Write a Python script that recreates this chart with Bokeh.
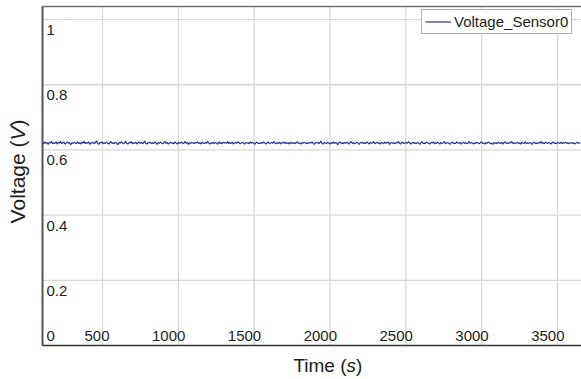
import math
from bokeh.plotting import figure
from bokeh.models import Range1d, ColumnDataSource
from bokeh.core.properties import value
from bokeh.embed import file_html
from bokeh.resources import INLINE

# Sensor 0 voltage log (V), one sample every 7.4 s starting at t = 105 s
time_start = 105
sample_step = 7.4
voltage = [
    0.622, 0.619, 0.625, 0.620, 0.623, 0.617, 0.624, 0.621, 0.626, 0.619, 0.622, 0.620, 0.625, 0.618, 0.623,
    0.621, 0.627, 0.619, 0.622, 0.624, 0.618, 0.621, 0.625, 0.620, 0.623, 0.616, 0.622, 0.620, 0.624, 0.621,
    0.619, 0.626, 0.620, 0.622, 0.618, 0.624, 0.621, 0.627, 0.619, 0.623, 0.620, 0.625, 0.617, 0.622, 0.621,
    0.624, 0.619, 0.622, 0.628, 0.620, 0.617, 0.623, 0.621, 0.625, 0.619, 0.622, 0.620, 0.624, 0.621, 0.618,
    0.623, 0.626, 0.620, 0.622, 0.619, 0.624, 0.621, 0.616, 0.623, 0.620, 0.625, 0.622, 0.619, 0.621, 0.627,
    0.620, 0.618, 0.623, 0.621, 0.626, 0.619, 0.622, 0.620, 0.624, 0.618, 0.621, 0.625, 0.620, 0.623, 0.619,
    0.622, 0.627, 0.620, 0.618, 0.623, 0.621, 0.624, 0.619, 0.622, 0.620, 0.625, 0.621, 0.617, 0.623, 0.620,
    0.624, 0.621, 0.619, 0.622, 0.626, 0.620, 0.623, 0.618, 0.621, 0.624, 0.620, 0.622, 0.619, 0.625, 0.621,
    0.618, 0.623, 0.620, 0.622, 0.624, 0.619, 0.621, 0.626, 0.620, 0.623, 0.617, 0.622, 0.620, 0.624, 0.621,
    0.619, 0.623, 0.621, 0.625, 0.620, 0.622, 0.618, 0.624, 0.621, 0.619, 0.623, 0.620, 0.626, 0.621, 0.618,
    0.622, 0.620, 0.624, 0.619, 0.623, 0.621, 0.617, 0.625, 0.620, 0.622, 0.619, 0.624, 0.621, 0.623, 0.620,
    0.626, 0.619, 0.622, 0.620, 0.624, 0.618, 0.621, 0.623, 0.620, 0.625, 0.622, 0.619, 0.621, 0.624, 0.620,
    0.618, 0.623, 0.621, 0.622, 0.619, 0.625, 0.620, 0.623, 0.621, 0.617, 0.622, 0.624, 0.620, 0.621, 0.619,
    0.623, 0.620, 0.625, 0.621, 0.618, 0.622, 0.624, 0.619, 0.621, 0.623, 0.620, 0.626, 0.621, 0.619, 0.622,
    0.620, 0.624, 0.618, 0.622, 0.621, 0.625, 0.619, 0.623, 0.620, 0.622, 0.618, 0.624, 0.621, 0.620, 0.623,
    0.619, 0.622, 0.625, 0.620, 0.621, 0.618, 0.623, 0.620, 0.624, 0.621, 0.619, 0.622, 0.620, 0.623, 0.621,
    0.625, 0.620, 0.617, 0.623, 0.621, 0.624, 0.619, 0.622, 0.627, 0.620, 0.618, 0.623, 0.621, 0.619, 0.624,
    0.621, 0.618, 0.622, 0.620, 0.625, 0.619, 0.623, 0.621, 0.616, 0.622, 0.624, 0.620, 0.622, 0.619, 0.623,
    0.620, 0.624, 0.621, 0.618, 0.623, 0.626, 0.620, 0.622, 0.619, 0.621, 0.624, 0.620, 0.617, 0.623, 0.621,
    0.624, 0.619, 0.622, 0.620, 0.625, 0.621, 0.618, 0.623, 0.620, 0.622, 0.626, 0.619, 0.621, 0.624, 0.620,
    0.622, 0.618, 0.623, 0.621, 0.619, 0.625, 0.620, 0.622, 0.624, 0.617, 0.621, 0.623, 0.620, 0.622, 0.619,
    0.623, 0.621, 0.626, 0.620, 0.618, 0.622, 0.624, 0.619, 0.621, 0.623, 0.620, 0.625, 0.622, 0.618, 0.621,
    0.624, 0.620, 0.622, 0.619, 0.623, 0.621, 0.617, 0.622, 0.625, 0.620, 0.621, 0.619, 0.624, 0.622, 0.620,
    0.618, 0.623, 0.621, 0.625, 0.619, 0.622, 0.620, 0.624, 0.621, 0.618, 0.623, 0.620, 0.622, 0.626, 0.619,
    0.621, 0.623, 0.620, 0.617, 0.622, 0.624, 0.620, 0.621, 0.619, 0.625, 0.622, 0.620, 0.623, 0.618, 0.621,
    0.624, 0.620, 0.622, 0.619, 0.621, 0.626, 0.620, 0.623, 0.621, 0.618, 0.622, 0.620, 0.624, 0.621, 0.619,
    0.622, 0.625, 0.620, 0.621, 0.618, 0.623, 0.620, 0.624, 0.622, 0.619, 0.621, 0.617, 0.623, 0.620, 0.622,
    0.619, 0.624, 0.621, 0.620, 0.623, 0.618, 0.622, 0.625, 0.620, 0.621, 0.619, 0.623, 0.621, 0.626, 0.620,
    0.622, 0.619, 0.621, 0.624, 0.620, 0.622, 0.618, 0.623, 0.621, 0.620, 0.625, 0.619, 0.622, 0.620, 0.623,
    0.621, 0.617, 0.622, 0.624, 0.620, 0.621, 0.619, 0.623, 0.621, 0.626, 0.620, 0.622, 0.619, 0.624, 0.621,
    0.620, 0.623, 0.621, 0.618, 0.622, 0.625, 0.620, 0.621, 0.619, 0.623, 0.621, 0.620, 0.624, 0.619, 0.622,
    0.621, 0.624, 0.620, 0.622, 0.619, 0.621, 0.623, 0.620, 0.622, 0.618, 0.621, 0.624, 0.620, 0.622, 0.621,
]
time_s = [time_start + i * sample_step for i in range(len(voltage))]

x_ticks = [500, 1000, 1500, 2000, 2500, 3000, 3500]
x_tick_labels = ["500", "1000", "1500", "2000", "2500", "3000", "3500"]
y_ticks = [0.2, 0.4, 0.6, 0.8, 1.0]
y_tick_labels = ["0.2", "0.4", "0.6", "0.8", "1"]

# visible plot-area limits (time in s, voltage in V)
T0, T1 = 104.4, 3658.0
V0, V1 = 0.0, 1.04

# canvas layout in px: the figure's frame spans the whole canvas and the
# plot area, titles and tick labels are laid out inside it
W, H = 581, 379
LEFT, TOP, BOTTOM = 42, 6, 34
PPX = (W - LEFT) / (T1 - T0)
PPY = (H - TOP - BOTTOM) / (V1 - V0)
X_LEFT, X_RIGHT = T0 - LEFT / PPX, T1
Y_BOTTOM, Y_TOP = V0 - BOTTOM / PPY, V1 + TOP / PPY


def dx(px):
    """Horizontal pixel distance -> time units."""
    return px / PPX


def dy(px):
    """Vertical pixel distance -> voltage units."""
    return px / PPY


FONT = value("Liberation Sans")
TEXT = "#1e1e1e"

p = figure(
    width=W, height=H,
    x_range=Range1d(X_LEFT, X_RIGHT), y_range=Range1d(Y_BOTTOM, Y_TOP),
    min_border_left=0, min_border_right=0, min_border_top=0, min_border_bottom=0,
    toolbar_location=None, output_backend="svg",
    background_fill_color="white", border_fill_color="white",
)
p.xaxis.visible = False
p.yaxis.visible = False
p.grid.visible = False
p.outline_line_color = None

# grid
p.segment(x0=x_ticks, y0=[V0] * len(x_ticks), x1=x_ticks, y1=[V1] * len(x_ticks),
          line_color="#d8d8d8", line_width=1.3)
p.segment(x0=[T0] * len(y_ticks), y0=y_ticks, x1=[T1] * len(y_ticks), y1=y_ticks,
          line_color="#d8d8d8", line_width=1.3)

# plot-area edges: left, bottom, top
p.segment(x0=[T0], y0=[V0], x1=[T0], y1=[V1], line_color="#555555", line_width=2)
p.segment(x0=[T0], y0=[V0], x1=[T1], y1=[V0], line_color="#333333", line_width=1.6)
p.segment(x0=[T0], y0=[V1], x1=[T1], y1=[V1], line_color="#707070", line_width=1.6)

p.line(time_s, voltage, line_color="#2a3691", line_width=1.2, legend_label="Voltage_Sensor0")

# tick labels inside the plot area (positioned by their vertical centre)
xsrc = ColumnDataSource(dict(
    x=[t + dx(7) for t in x_ticks],
    y=[V0 + dy(9.5)] * len(x_ticks),
    t=x_tick_labels,
))
p.text(x="x", y="y", text="t", source=xsrc, text_font=FONT, text_font_size="15px",
       text_color=TEXT, text_align="right", text_baseline="middle")
ysrc = ColumnDataSource(dict(
    x=[T0 + dx(4)] * len(y_ticks),
    y=[v - dy(10.5) for v in y_ticks],
    t=y_tick_labels,
))
p.text(x="x", y="y", text="t", source=ysrc, text_font=FONT, text_font_size="15px",
       text_color=TEXT, text_align="left", text_baseline="middle")
p.text(x=[T0 + dx(4)], y=[V0 + dy(9.5)], text=["0"], text_font=FONT, text_font_size="15px",
       text_color=TEXT, text_align="left", text_baseline="middle")

# axis titles, units in italics
def title_part(txt, x, y, align, italic=False, angle=0.0, size="19px"):
    p.text(x=[x], y=[y], text=[txt], text_font=FONT, text_font_size=size,
           text_color=TEXT, text_font_style="italic" if italic else "normal",
           text_align=align, text_baseline="middle", angle=angle)

tx = X_LEFT + dx(346)
ty = V0 - dy(19.5)
title_part("Time (", tx, ty, "right")
title_part("s", tx, ty, "left", italic=True)
title_part(")", tx + dx(9.5), ty, "left")

rot = math.pi / 2
vx = X_LEFT + dx(16.5)
vy = V0 + dy(205)
title_part("Voltage (", vx, vy, "right", angle=rot, size="21px")
title_part("V", vx, vy, "left", italic=True, angle=rot, size="21px")
title_part(")", vx, vy + dy(14), "left", angle=rot, size="21px")

lg = p.legend[0]
lg.location = (421, H - 34)
lg.margin = 0
lg.padding = 3
lg.spacing = 0
lg.label_standoff = 3
lg.glyph_width = 26
lg.glyph_height = 15
lg.label_height = 15
lg.label_text_font = "Liberation Sans"
lg.label_text_font_size = "15px"
lg.label_text_color = TEXT
lg.border_line_color = "#666666"
lg.border_line_width = 1.5
lg.background_fill_alpha = 1.0

open("out.html", "w").write(file_html(p, INLINE))
